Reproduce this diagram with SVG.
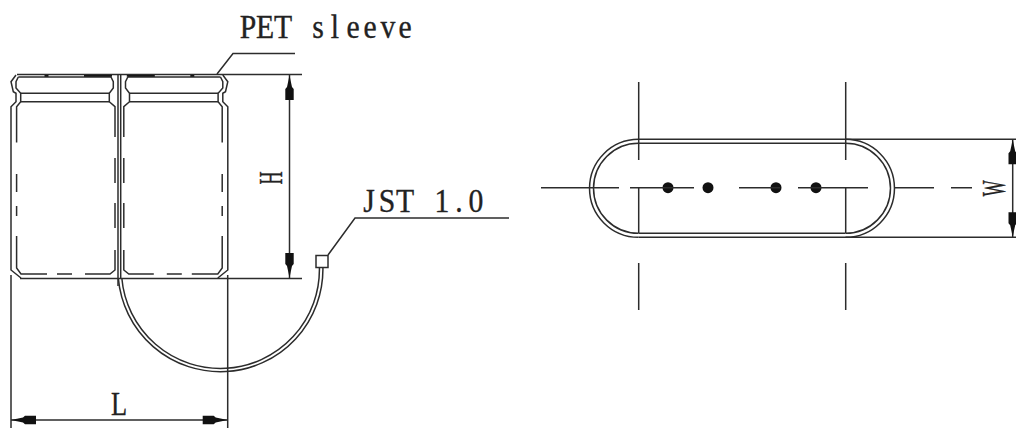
<svg xmlns="http://www.w3.org/2000/svg" width="1016" height="428" viewBox="0 0 1016 428">
<style>
.l{fill:none;stroke:#2c2c2c;stroke-width:1.5}
.t{fill:none;stroke:#111;stroke-width:2.2}
.a{fill:#111;stroke:none}
.d{fill:#111;stroke:none}
.w{fill:#222;stroke:#222;stroke-width:0.35;font-family:"Liberation Serif",serif;font-size:33px;text-anchor:middle}
</style>
<defs>
<path id="ah" d="M0 0L1.2 6L2.5 12L4.2 14L4.2 25L-4.2 25L-4.2 14L-2.5 12L-1.2 6Z"/>
<g id="cell">
<path class="l" d="M16 75L11 81.7L13.3 91.7L16 93.3L16 101.7L11 106.7L11 270L21 278"/>
<path class="l" d="M18.3 77L16 81.7L16 88L20.7 93.3L20.7 101.7L16.6 106.7L16.6 142.5M16.6 174V192M16.6 206V216M16.6 236V268L21 274H47M57 274H72M85 274H110L115 270V250M115 228V203M115 183V158M115 137V106.7L109.3 101.7V93.3L113.3 88V81.7L111 77"/>
<path class="l" d="M18.3 77H111M20.7 93.3H109.3M20.7 101.7H109.3"/>
<path class="t" d="M44.5 75.7H48.5M84 75.7H112"/>
</g>
</defs>
<rect width="1016" height="428" fill="#fff"/>
<g id="left-cell"><use href="#cell"/></g>
<g id="right-cell"><use href="#cell" transform="translate(238.8 0) scale(-1 1)"/></g>
<g id="wire">
<path class="l" d="M118.3 278A102.5 102.5 0 0 0 322.9 267"/>
<path class="l" d="M121.8 278A99 99 0 0 0 319.4 267"/>
<rect class="l" x="316" y="255.5" width="12" height="12"/>
</g>
<g id="end-view">
<path class="l" d="M638.5 139.3A49 49 0 0 0 638.5 237.3"/>
<path class="l" d="M638.5 143.3A45 45 0 0 0 638.5 233.3"/>
<path class="l" d="M845.5 139.3A49 49 0 0 1 845.5 237.3"/>
<path class="l" d="M845.5 143.3A45 45 0 0 1 845.5 233.3"/>
<path class="l" d="M638.5 143.3H845.5M638.5 233.3H845.5"/>
<circle class="d" cx="668" cy="187.7" r="5.5"/>
<circle class="d" cx="708" cy="187.7" r="5.5"/>
<circle class="d" cx="776" cy="187.7" r="5.5"/>
<circle class="d" cx="816" cy="187.7" r="5.5"/>
</g>
<g id="connectors">
<path class="l" d="M17 74.5H302M20 278.5H302M118 74V286M120.7 74V278"/>
<path class="l" d="M289.5 75V278"/>
<use class="a" href="#ah" transform="translate(289.5 75)"/>
<use class="a" href="#ah" transform="translate(289.5 278) scale(1 -1)"/>
<path class="l" d="M11 275V428M227.7 275V428M11 420H227.7"/>
<use class="a" href="#ah" transform="translate(11 420) rotate(-90)"/>
<use class="a" href="#ah" transform="translate(227.7 420) rotate(90)"/>
<path class="l" d="M217 74L233 53.5H295"/>
<path class="l" d="M328 255L355 218H509"/>
<path class="l" d="M638.7 82V160M638.7 188V233M638.7 263V310M845.7 82V160M845.7 188V233M845.7 263V310"/>
<path class="l" d="M541 187.7H619M630 187.7H694M739 187.7H780M798 187.7H868M895 187.7H934M951 187.7H972"/>
<path class="l" d="M638.5 139.3H1016M638.5 237.3H1016M1012.7 139.3V237.3"/>
<use class="a" href="#ah" transform="translate(1012.7 139.3)"/>
<use class="a" href="#ah" transform="translate(1012.7 237.3) scale(1 -1)"/>
</g>
<g id="labels">
<text class="w" transform="scale(0.9 1)" x="275.6 294.4 314.4 353.3 372.2 392.2 411.1 431.1 450" y="38">PETsleeve</text>
<text class="w" transform="scale(0.9 1)" x="410 430 450 491.1 510 528.9" y="212">JST1.0</text>
<text class="w" transform="translate(119 415) scale(0.8 1)">L</text>
<text class="w" transform="translate(282 178) rotate(-90) scale(0.55 1)">H</text>
<text class="w" transform="translate(1005 188.5) rotate(-90) scale(0.52 1)">W</text>
</g>
</svg>
